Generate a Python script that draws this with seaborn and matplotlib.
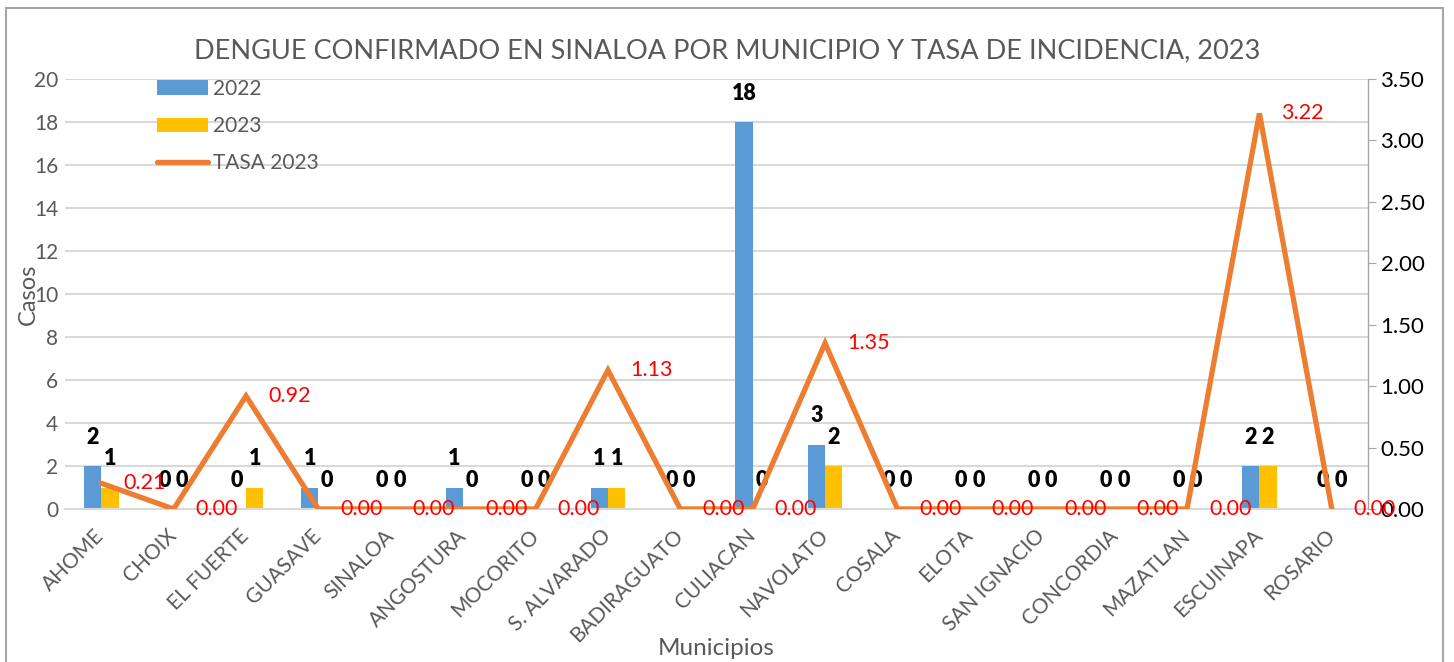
import numpy as np
import pandas as pd
import matplotlib
matplotlib.use("Agg")
import matplotlib.pyplot as plt
from matplotlib.patches import Patch, Rectangle
from matplotlib.lines import Line2D
import seaborn as sns

municipios = ["AHOME", "CHOIX", "EL FUERTE", "GUASAVE", "SINALOA", "ANGOSTURA",
              "MOCORITO", "S. ALVARADO", "BADIRAGUATO", "CULIACAN", "NAVOLATO",
              "COSALA", "ELOTA", "SAN IGNACIO", "CONCORDIA", "MAZATLAN",
              "ESCUINAPA", "ROSARIO"]
casos_2022 = [2, 0, 0, 1, 0, 1, 0, 1, 0, 18, 3, 0, 0, 0, 0, 0, 2, 0]
casos_2023 = [1, 0, 1, 0, 0, 0, 0, 1, 0, 0, 2, 0, 0, 0, 0, 0, 2, 0]
tasa_2023 = [0.21, 0.00, 0.92, 0.00, 0.00, 0.00, 0.00, 1.13, 0.00, 0.00, 1.35,
             0.00, 0.00, 0.00, 0.00, 0.00, 3.22, 0.00]
series = ["2022", "2023"]
left_ticks = list(range(0, 21, 2))
right_ticks = [0, 0.5, 1.0, 1.5, 2.0, 2.5, 3.0, 3.5]

BLUE = "#5B9BD5"
YELLOW = "#FFC000"
ORANGE = "#ED7D31"
GRAY = "#595959"
GRID = "#D9D9D9"

sns.set_style("white")
plt.rcParams["font.family"] = ["Lato", "DejaVu Sans"]

df = pd.DataFrame({
    "Municipio": municipios * 2,
    "Casos": casos_2022 + casos_2023,
    "Año": [series[0]] * len(municipios) + [series[1]] * len(municipios),
})

fig = plt.figure(figsize=(14.54, 6.62), dpi=100)
W, H = 1454, 662
ax = fig.add_axes([65 / W, 1 - 509 / H, (1368 - 65) / W, (509 - 79) / H])

sns.barplot(data=df, x="Municipio", y="Casos", hue="Año", order=municipios,
            hue_order=series, palette=[BLUE, YELLOW], width=0.48, gap=0,
            linewidth=0, saturation=1, legend=False, ax=ax)

ax.set_ylim(0, 20)
ax.set_yticks(left_ticks)
ax.set_xlim(-0.5, len(municipios) - 0.5)
ax.set_axisbelow(True)
ax.yaxis.grid(True, color=GRID, linewidth=1.5)
ax.xaxis.grid(False)
for s in ["left", "top", "right"]:
    ax.spines[s].set_visible(False)
ax.spines["bottom"].set_color(GRID)
ax.spines["bottom"].set_linewidth(1.5)
ax.tick_params(axis="y", length=0, labelsize=15, labelcolor=GRAY, pad=5)
ax.tick_params(axis="x", which="major", length=0, labelsize=15, labelcolor=GRAY, pad=17)
ax.set_xticks(np.arange(-0.5, len(municipios), 1.0), minor=True)
ax.tick_params(axis="x", which="minor", length=6, color=GRID, width=1.5)
for lab in ax.get_xticklabels():
    lab.set_rotation(45)
    lab.set_ha("right")
    lab.set_va("center")
    lab.set_rotation_mode("anchor")

for cont in ax.containers:
    ax.bar_label(cont, fmt="%d", padding=13, fontsize=15.5, fontweight="heavy", color="black")

ax.set_ylabel("Casos", fontsize=17, color=GRAY)
ax.yaxis.set_label_coords((39 - 65) / 1303, 0.5)
ax.set_xlabel("Municipios", fontsize=17.5, color=GRAY)
ax.xaxis.label.set_va("baseline")
ax.xaxis.set_label_coords((716 - 65) / 1303, (509 - 655) / 430)

ax2 = ax.twinx()
xs = np.arange(len(municipios))
sns.lineplot(x=xs, y=tasa_2023, color=ORANGE, linewidth=3.8, ax=ax2)
ax2.lines[0].set_solid_joinstyle("miter")
ax2.set_ylim(0, 3.5)
ax2.set_yticks(right_ticks)
ax2.set_yticklabels([f"{t:.2f}" for t in right_ticks])
ax2.tick_params(axis="y", length=6, color="#A6A6A6", labelsize=16, labelcolor="black", pad=3)
for s in ["left", "top", "bottom"]:
    ax2.spines[s].set_visible(False)
ax2.spines["right"].set_color("#A6A6A6")
ax2.spines["right"].set_linewidth(1)
ax2.grid(False)
ax2.set_ylabel("")

for x, v in zip(xs, tasa_2023):
    ax2.annotate(f"{v:.2f}", (x, v), xytext=(15.8, 0), textcoords="offset points",
                 ha="left", va="center", color="#FF0000", fontsize=15.5)

handles = [Patch(facecolor=BLUE, edgecolor="none"),
           Patch(facecolor=YELLOW, edgecolor="none"),
           Line2D([0], [0], color=ORANGE, linewidth=3.8, solid_capstyle="round")]
leg = fig.legend(handles, ["2022", "2023", "TASA 2023"], loc="upper left",
                 bbox_to_anchor=(157 / W, 1 - 79 / H), frameon=False, fontsize=15,
                 handlelength=2.45, handletextpad=0.25, labelspacing=0.82,
                 borderpad=0, borderaxespad=0)
for t in leg.get_texts():
    t.set_color(GRAY)

fig.text(0.5, 1 - 58 / H,
         "DENGUE CONFIRMADO EN SINALOA POR MUNICIPIO Y TASA DE INCIDENCIA, 2023",
         ha="center", va="baseline", fontsize=19.5, color=GRAY)

fig.patches.append(Rectangle((6 / W, -0.05), (1443 - 6) / W, 1.05 - 8 / H,
                             transform=fig.transFigure, fill=False,
                             edgecolor="#A6A6A6", linewidth=1.5))

fig.savefig("out.png", dpi=100)
